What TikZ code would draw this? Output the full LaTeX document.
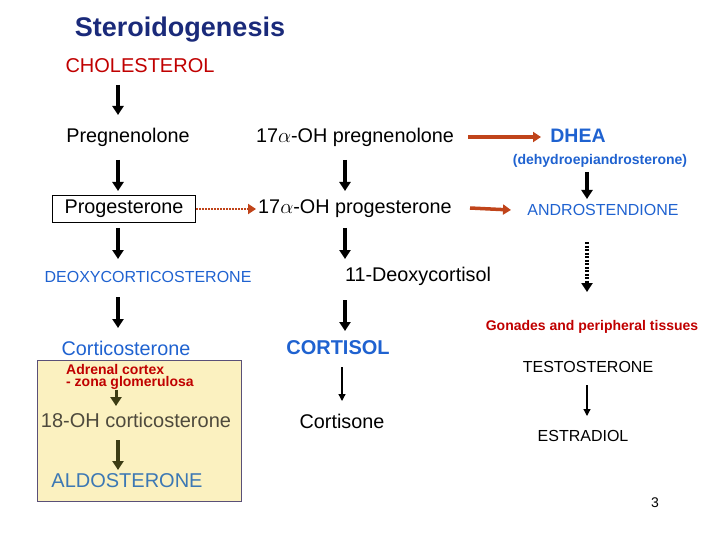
\documentclass[tikz,border=0pt]{standalone}
\usepackage{fontspec}
\setmainfont{Liberation Sans}
\usetikzlibrary{arrows.meta}
\definecolor{blu}{HTML}{1F62D0}
\definecolor{navy}{HTML}{1A2A7A}
\definecolor{rd}{HTML}{C00000}
\definecolor{br}{HTML}{C0441A}
\definecolor{yel}{RGB}{251,241,192}
\definecolor{boxb}{RGB}{90,80,120}
\definecolor{steel}{RGB}{60,120,180}
\definecolor{olive}{RGB}{60,60,20}
\begin{document}
\begin{tikzpicture}[x=1pt,y=-1pt,
 fs/.style={font=\fontsize{#1}{#1}\selectfont},
 t/.style={inner sep=0pt,anchor=center},
 ar/.style={-{Triangle[length=9pt,width=11pt]},line width=3.5pt},
 tar/.style={-{Triangle[length=7pt,width=7pt]},line width=1.3pt},
 rar/.style={-{Triangle[length=8pt,width=10pt]},line width=3.5pt,color=br},
]
\useasboundingbox (0,0) rectangle (720,540);
\fill[fill=yel,draw=boxb,line width=0.8pt] (37,360) rectangle (241,501);
\node[t,fs=27,navy] (title) at (180,30) {\textbf{Steroidogenesis}};
\node[t,fs=20,rd] (chol) at (140,66) {CHOLESTEROL};
\node[t,fs=19.8] (preg) at (128,137) {Pregnenolone};
\node[t,fs=19.8] (ohpreg) at (355,137) {17$\alpha$-OH pregnenolone};
\node[t,fs=19.5,blu] (dhea) at (578,136) {\textbf{DHEA}};
\node[t,fs=14,blu] (dheal) at (600,161) {\textbf{(dehydroepiandrosterone)}};
\node[t,fs=19.8,draw,inner xsep=12pt,inner ysep=5pt,line width=0.8pt] (prog) at (124,209) {Progesterone};
\node[t,fs=19.8] (ohprog) at (355,209) {17$\alpha$-OH progesterone};
\node[t,fs=16,blu] (andro) at (603,210) {ANDROSTENDIONE};
\node[t,fs=16,blu] (doc) at (148,277) {DEOXYCORTICOSTERONE};
\node[t,fs=19.8] (doxc) at (418,276) {11-Deoxycortisol};
\node[t,fs=19.8,blu] (cortico) at (126,348) {Corticosterone};
\node[t,fs=20,blu] (cortisol) at (338,348) {\textbf{CORTISOL}};
\node[t,fs=14,rd,align=left] (adr) at (130,377) {\textbf{Adrenal cortex}\\[-2pt]\textbf{- zona glomerulosa}};
\node[t,fs=20,black!80!yellow] (ohc) at (136,420) {18-OH corticosterone};
\node[t,fs=20,steel] (aldo) at (127,481) {ALDOSTERONE};
\node[t,fs=19.8] (cortisone) at (342,421) {Cortisone};
\node[t,fs=14,rd] (gon) at (592,327) {\textbf{Gonades and peripheral tissues}};
\node[t,fs=16] (testo) at (588,367) {TESTOSTERONE};
\node[t,fs=16] (estr) at (583,436) {ESTRADIOL};
\node[t,fs=14] (pg) at (655,503) {3};
\draw[ar] (118,85) -- (118,115);
\draw[ar] (118,160) -- (118,191);
\draw[ar] (345,160) -- (345,191);
\draw[ar] (587,172) -- (587,199);
\draw[ar] (118,228) -- (118,259);
\draw[ar] (345,228) -- (345,259);
\draw[ar,dash pattern=on 2pt off 1.5pt] (587,242) -- (587,292);
\draw[ar] (118,297) -- (118,328);
\draw[ar] (345,300) -- (345,331);
\draw[tar] (342,367) -- (342,401);
\draw[ar,line width=3pt,draw=olive,fill=olive] (116,390) -- (116,406);
\draw[ar,draw=olive,fill=olive] (118,440) -- (118,470);
\draw[tar] (587,385) -- (587,416);
\draw[rar] (468,137) -- (541,137);
\draw[rar,line width=2.5pt,dash pattern=on 2pt off 1pt] (prog.east) -- (256,209);
\draw[rar] (470,208) -- (511,210);
\end{tikzpicture}
\end{document}
